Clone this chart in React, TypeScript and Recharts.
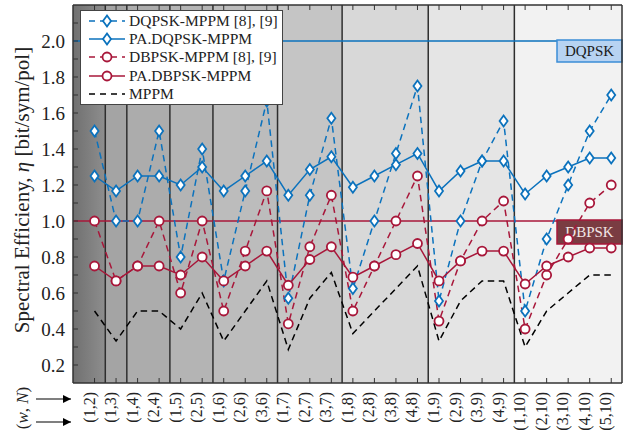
import React from 'react';
import { ComposedChart, Line, XAxis, YAxis, ReferenceArea, ReferenceLine, Legend } from 'recharts';

// (w, N) pairs along the x axis
const pairs = [
  '(1,2)', '(1,3)', '(1,4)', '(2,4)', '(1,5)', '(2,5)', '(1,6)', '(2,6)', '(3,6)',
  '(1,7)', '(2,7)', '(3,7)', '(1,8)', '(2,8)', '(3,8)', '(4,8)', '(1,9)', '(2,9)',
  '(3,9)', '(4,9)', '(1,10)', '(2,10)', '(3,10)', '(4,10)', '(5,10)',
];

const dqpskMppm = [
  1.5, 1.0, 1.0, 1.5, 0.8, 1.4, 0.667, 1.167, 1.667, 0.571, 1.143, 1.571, 0.625,
  1.0, 1.375, 1.75, 0.556, 1.0, 1.333, 1.556, 0.5, 0.9, 1.2, 1.5, 1.7,
];
const paDqpsk = [
  1.25, 1.167, 1.25, 1.25, 1.2, 1.3, 1.167, 1.25, 1.333, 1.143, 1.286, 1.357, 1.188,
  1.25, 1.313, 1.375, 1.167, 1.278, 1.333, 1.333, 1.15, 1.25, 1.3, 1.35, 1.35,
];
const dbpskMppm = [
  1.0, 0.667, 0.75, 1.0, 0.6, 1.0, 0.5, 0.833, 1.167, 0.429, 0.857, 1.143, 0.5,
  0.75, 1.0, 1.25, 0.444, 0.778, 1.0, 1.111, 0.4, 0.7, 0.9, 1.1, 1.2,
];
const paDbpsk = [
  0.75, 0.667, 0.75, 0.75, 0.7, 0.8, 0.667, 0.75, 0.833, 0.643, 0.786, 0.857, 0.688,
  0.75, 0.813, 0.875, 0.667, 0.778, 0.833, 0.833, 0.65, 0.75, 0.8, 0.85, 0.85,
];
const mppm = [
  0.5, 0.333, 0.5, 0.5, 0.4, 0.6, 0.333, 0.5, 0.667, 0.286, 0.571, 0.714, 0.375,
  0.5, 0.625, 0.75, 0.333, 0.556, 0.667, 0.667, 0.3, 0.5, 0.6, 0.7, 0.7,
];

// shaded bands, one per N
const bandEdges = [0, 1.5, 2.5, 4.5, 6.5, 9.5, 12.5, 16.5, 20.5, 25.5];
const bandFills = [
  'url(#bandN2)', '#a4a4a4', '#acacac', '#b4b4b4', '#bcbcbc', '#c5c5c5', '#d8d8d8', '#e5e5e5', '#f2f2f2',
];

const yTicks = [
  0.2, 0.3, 0.4, 0.5, 0.6, 0.7, 0.8, 0.9, 1.0, 1.1, 1.2, 1.3, 1.4, 1.5, 1.6, 1.7, 1.8, 1.9, 2.0, 2.1,
];
const xTicks = pairs.map((_, i) => i + 1);

const BLUE = '#0b72bd';
const RED = '#a8173a';
const FRAME = '#333';
const FONT = '"Liberation Serif", "DejaVu Serif", serif';
const DASH = '6.5 4.5';

const data = pairs.map((label, i) => ({
  pos: i + 1,
  label,
  dqpskMppm: dqpskMppm[i],
  paDqpsk: paDqpsk[i],
  dbpskMppm: dbpskMppm[i],
  paDbpsk: paDbpsk[i],
  mppm: mppm[i],
}));

const diamond = (color: string) => (p: any) => {
  const { cx, cy, index } = p;
  if (cx == null || cy == null) return <g key={`dm-${index}`} />;
  return (
    <path
      key={`dm-${index}`}
      d={`M${cx},${cy - 5.5} L${cx + 4},${cy} L${cx},${cy + 5.5} L${cx - 4},${cy} Z`}
      fill="#fff"
      stroke={color}
      strokeWidth={1.8}
      strokeDasharray="none"
    />
  );
};

const circle = (color: string) => (p: any) => {
  const { cx, cy, index } = p;
  if (cx == null || cy == null) return <g key={`ci-${index}`} />;
  return (
    <circle key={`ci-${index}`} cx={cx} cy={cy} r={4.5} fill="#fff" stroke={color} strokeWidth={1.8} strokeDasharray="none" />
  );
};

const BottomTick = (p: any) => {
  const { x, y, payload } = p;
  const label = pairs[payload.value - 1];
  return (
    <g>
      <line x1={x} y1={y} x2={x} y2={y - 5} stroke={FRAME} strokeWidth={1} />
      <text
        x={x}
        y={y + 9}
        transform={`rotate(-90 ${x} ${y + 9})`}
        textAnchor="end"
        fontFamily={FONT}
        fontSize={16}
        fill="#222"
      >
        {label}
      </text>
    </g>
  );
};

const TopTick = (p: any) => (
  <line x1={p.x} y1={p.y} x2={p.x} y2={p.y + 5} stroke={FRAME} strokeWidth={1} />
);

const LeftTick = (p: any) => {
  const { x, y, payload } = p;
  const v = payload.value as number;
  const labelled = Math.round(v * 10) % 2 === 0;
  return (
    <g>
      <line x1={x} y1={y} x2={x + 5} y2={y} stroke={FRAME} strokeWidth={1} />
      {labelled && (
        <text x={x - 8} y={y} dy="0.35em" textAnchor="end" fontFamily={FONT} fontSize={19} fill="#222">
          {v.toFixed(1)}
        </text>
      )}
    </g>
  );
};

const RightTick = (p: any) => (
  <line x1={p.x} y1={p.y} x2={p.x - 5} y2={p.y} stroke={FRAME} strokeWidth={1} />
);

const tagLabel = (text: string, fill: string, stroke: string, color: string, h: number) => (p: any) => {
  const vb = p.viewBox;
  const w = 65;
  const x = vb.x + vb.width - w;
  const y = vb.y - 1;
  return (
    <g>
      <rect x={x} y={y} width={w} height={h} fill={fill} stroke={stroke} strokeWidth={1.5} />
      <text x={x + w / 2} y={y + h / 2} dy="0.35em" textAnchor="middle" fontFamily={FONT} fontSize={15} fill={color}>
        {text}
      </text>
    </g>
  );
};

const legendRows = [
  { name: 'DQPSK-MPPM [8], [9]', color: BLUE, dashed: true, mark: 'diamond' },
  { name: 'PA.DQPSK-MPPM', color: BLUE, dashed: false, mark: 'diamond' },
  { name: 'DBPSK-MPPM [8], [9]', color: RED, dashed: true, mark: 'circle' },
  { name: 'PA.DBPSK-MPPM', color: RED, dashed: false, mark: 'circle' },
  { name: 'MPPM', color: '#000', dashed: true, mark: 'none' },
];

const LegendBox = () => (
  <div
    style={{
      background: '#fff',
      border: '1px solid #444',
      padding: '0.5px 0',
      fontFamily: FONT,
      fontSize: 15.5,
      color: '#222',
      boxSizing: 'border-box',
      width: 203,
    }}
  >
    {legendRows.map((r) => (
      <div key={r.name} style={{ display: 'flex', alignItems: 'center', height: 18.4 }}>
        <svg width={48} height={18} style={{ flex: 'none' }}>
          <line
            x1={8}
            y1={9}
            x2={44}
            y2={9}
            stroke={r.color}
            strokeWidth={1.5}
            strokeDasharray={r.dashed ? '6 5' : undefined}
          />
          {r.mark === 'diamond' && (
            <path d="M26,3.5 L30,9 L26,14.5 L22,9 Z" fill="#fff" stroke={r.color} strokeWidth={1.8} />
          )}
          {r.mark === 'circle' && <circle cx={26} cy={9} r={4.5} fill="#fff" stroke={r.color} strokeWidth={1.8} />}
        </svg>
        <span style={{ whiteSpace: 'nowrap' }}>{r.name}</span>
      </div>
    ))}
  </div>
);

export default function App() {
  return (
    <div style={{ position: 'absolute', left: 0, top: 0, width: 639, height: 441, background: '#fff' }}>
      <ComposedChart width={639} height={441} data={data} margin={{ top: 0, right: 0, bottom: 0, left: 0 }}>
        <defs>
          <linearGradient id="bandN2" x1="0" y1="0" x2="1" y2="0">
            <stop offset="0%" stopColor="#707070" />
            <stop offset="100%" stopColor="#8e8e8e" />
          </linearGradient>
        </defs>
        <XAxis
          xAxisId="bottom"
          dataKey="pos"
          type="number"
          domain={[0, 25.5]}
          ticks={xTicks}
          interval={0}
          height={58}
          tickSize={0}
          tickMargin={0}
          tickLine={false}
          axisLine={{ stroke: FRAME, strokeWidth: 1.5 }}
          tick={<BottomTick />}
        />
        <XAxis
          xAxisId="top"
          orientation="top"
          dataKey="pos"
          type="number"
          domain={[0, 25.5]}
          ticks={xTicks}
          interval={0}
          height={5}
          tickSize={0}
          tickMargin={0}
          tickLine={false}
          axisLine={{ stroke: FRAME, strokeWidth: 1.5 }}
          tick={<TopTick />}
        />
        <YAxis
          yAxisId="left"
          type="number"
          domain={[0.1, 2.2]}
          ticks={yTicks}
          interval={0}
          width={73}
          tickSize={0}
          tickMargin={0}
          tickLine={false}
          axisLine={{ stroke: FRAME, strokeWidth: 1.5 }}
          tick={<LeftTick />}
        />
        <YAxis
          yAxisId="right"
          orientation="right"
          type="number"
          domain={[0.1, 2.2]}
          ticks={yTicks}
          interval={0}
          width={17}
          tickSize={0}
          tickMargin={0}
          tickLine={false}
          axisLine={{ stroke: FRAME, strokeWidth: 1.5 }}
          tick={<RightTick />}
        />

        {bandFills.map((fill, i) => (
          <ReferenceArea
            key={`band-${i}`}
            xAxisId="bottom"
            yAxisId="left"
            x1={bandEdges[i]}
            x2={bandEdges[i + 1]}
            y1={0.1}
            y2={2.2}
            fill={fill}
            fillOpacity={1}
            stroke="none"
          />
        ))}
        {bandEdges.slice(1, -1).map((e) => (
          <ReferenceLine key={`edge-${e}`} xAxisId="bottom" yAxisId="left" x={e} stroke="#2e2e2e" strokeWidth={1.5} />
        ))}

        <ReferenceLine
          xAxisId="bottom"
          yAxisId="left"
          y={2.0}
          stroke={BLUE}
          strokeWidth={1.5}
          label={tagLabel('DQPSK', '#b7d3f2', '#3b8dd6', '#1a1a1a', 22)}
        />
        <ReferenceLine
          xAxisId="bottom"
          yAxisId="left"
          y={1.0}
          stroke={RED}
          strokeWidth={1.5}
          label={tagLabel('DBPSK', '#7a3c42', RED, '#f2e6e6', 24)}
        />

        <Line
          xAxisId="bottom"
          yAxisId="left"
          dataKey="mppm"
          stroke="#000"
          strokeWidth={1.5}
          strokeDasharray={DASH}
          dot={false}
          isAnimationActive={false}
        />
        <Line
          xAxisId="bottom"
          yAxisId="left"
          dataKey="dqpskMppm"
          stroke={BLUE}
          strokeWidth={1.5}
          strokeDasharray={DASH}
          dot={diamond(BLUE)}
          isAnimationActive={false}
        />
        <Line
          xAxisId="bottom"
          yAxisId="left"
          dataKey="dbpskMppm"
          stroke={RED}
          strokeWidth={1.5}
          strokeDasharray={DASH}
          dot={circle(RED)}
          isAnimationActive={false}
        />
        <Line
          xAxisId="bottom"
          yAxisId="left"
          dataKey="paDqpsk"
          stroke={BLUE}
          strokeWidth={1.5}
          dot={diamond(BLUE)}
          isAnimationActive={false}
        />
        <Line
          xAxisId="bottom"
          yAxisId="left"
          dataKey="paDbpsk"
          stroke={RED}
          strokeWidth={1.5}
          dot={circle(RED)}
          isAnimationActive={false}
        />

        <Legend
          layout="vertical"
          align="center"
          verticalAlign="middle"
          wrapperStyle={{ left: 80, top: 10, width: 203 }}
          content={() => <LegendBox />}
        />
      </ComposedChart>

      {/* axis titles */}
      <svg width={639} height={441} style={{ position: 'absolute', left: 0, top: 0, pointerEvents: 'none' }}>
        <defs>
          <marker id="arrowHead" viewBox="0 0 10 10" refX="10" refY="5" markerWidth="7" markerHeight="7" orient="auto">
            <path d="M0,0 L10,5 L0,10 Z" fill="#000" />
          </marker>
        </defs>
        <text
          x={22}
          y={190}
          transform="rotate(-90 22 190)"
          textAnchor="middle"
          dy="0.35em"
          fontFamily={FONT}
          fontSize={21}
          fill="#222"
        >
          Spectral Efficieny, <tspan fontStyle="italic">η</tspan> [bit/sym/pol]
        </text>
        <text
          x={22}
          y={408}
          transform="rotate(-90 22 408)"
          textAnchor="middle"
          dy="0.35em"
          fontFamily={FONT}
          fontSize={17}
          fill="#222"
        >
          (<tspan fontStyle="italic">w</tspan>, <tspan fontStyle="italic">N</tspan>)
        </text>
        <line x1={36} y1={399} x2={71} y2={399} stroke="#000" strokeWidth={1.2} markerEnd="url(#arrowHead)" />
        <line x1={36} y1={422} x2={71} y2={422} stroke="#000" strokeWidth={1.2} markerEnd="url(#arrowHead)" />
      </svg>
    </div>
  );
}
